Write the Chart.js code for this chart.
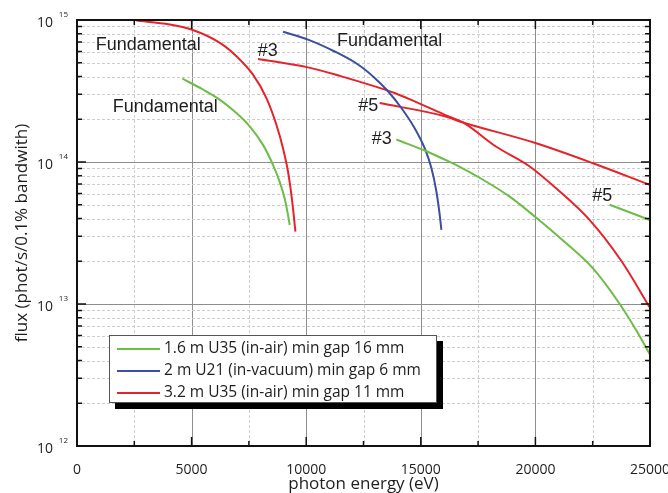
<!DOCTYPE html>
<html><head><meta charset="utf-8">
<script src="https://cdn.jsdelivr.net/npm/chart.js@4/dist/chart.umd.min.js"></script>
<style>html,body{margin:0;padding:0;background:#fff}canvas{display:block}</style>
</head><body>
<canvas id="c" width="668" height="493"></canvas>
<script>
// ---- tick values ----
const xTickValues = [0, 2500, 5000, 7500, 10000, 12500, 15000, 17500, 20000, 22500, 25000];
const xLabelValues = [0, 5000, 10000, 15000, 20000, 25000];
const yTickValues = [
  1e12, 2e12, 3e12, 4e12, 5e12, 6e12, 7e12, 8e12, 9e12,
  1e13, 2e13, 3e13, 4e13, 5e13, 6e13, 7e13, 8e13, 9e13,
  1e14, 2e14, 3e14, 4e14, 5e14, 6e14, 7e14, 8e14, 9e14,
  1e15
];
const yDecades = [1e12, 1e13, 1e14, 1e15];
const yDecadeExponents = ['12', '13', '14', '15'];

// ---- series (legend) ----
const seriesNames = [
  '1.6 m U35 (in-air) min gap 16 mm',
  '2 m U21 (in-vacuum) min gap 6 mm',
  '3.2 m U35 (in-air) min gap 11 mm'
];
const seriesColors = ['#6cbd45', '#3b4ea0', '#e5232b'];

// ---- curves: photon energy (eV) and flux (phot/s/0.1% bw) ----
// 1.6 m U35 fundamental
const greenFundEnergy = [4599, 5497, 6226, 6955, 7536, 8115, 8551, 8840, 9058, 9206, 9280];
const greenFundFlux   = [3.86e14, 3.24e14, 2.75e14, 2.21e14, 1.78e14, 1.32e14, 9.55e13, 7.28e13, 5.56e13, 4.24e13, 3.6e13];
// 1.6 m U35 3rd harmonic
const green3Energy = [13935, 15244, 16043, 16553, 17714, 18878, 20000, 21204, 22513, 23679, 24407, 25000];
const green3Flux   = [1.44e14, 1.19e14, 1.04e14, 9.5e13, 7.5e13, 5.7e13, 4.1e13, 2.8e13, 1.78e13, 1.0e13, 6.5e12, 4.4e12];
// 1.6 m U35 5th harmonic
const green5Energy = [23243, 25000];
const green5Flux   = [5.0e13, 3.9e13];
// 2 m U21 fundamental
const blueFundEnergy = [8988, 10079, 11243, 12260, 12989, 13569, 14153, 14733, 15170, 15462, 15680, 15825, 15898];
const blueFundFlux   = [8.26e14, 7.28e14, 6.0e14, 4.86e14, 3.91e14, 3.15e14, 2.4e14, 1.73e14, 1.25e14, 9.06e13, 6.2e13, 4.24e13, 3.33e13];
// 3.2 m U35 fundamental
const redFundEnergy = [2592, 4045, 4991, 6236, 6955, 7679, 8264, 8700, 8988, 9206, 9354, 9455, 9529];
const redFundFlux   = [9.9e14, 9.3e14, 8.57e14, 6.9e14, 5.56e14, 4.12e14, 2.82e14, 1.83e14, 1.25e14, 8.57e13, 5.87e13, 4.24e13, 3.23e13];
// 3.2 m U35 3rd harmonic
const red3Energy = [7897, 10079, 11536, 12989, 13861, 14733, 16043, 16841, 18296, 19751, 20916, 22370, 23760, 25000];
const red3Flux   = [5.32e14, 4.64e14, 4.01e14, 3.41e14, 3.06e14, 2.67e14, 2.15e14, 1.9e14, 1.28e14, 9.3e13, 6.5e13, 3.9e13, 2.0e13, 9.4e12];
// 3.2 m U35 5th harmonic
const red5Energy = [13206, 16043, 16696, 20000, 22513, 25000];
const red5Flux   = [2.6e14, 2.1e14, 1.93e14, 1.36e14, 9.8e13, 6.9e13];

// ---- harmonic annotations (text anchored at data coordinates) ----
const noteTexts  = ['Fundamental', 'Fundamental', 'Fundamental', '#3', '#3', '#5', '#5'];
const noteEnergy = [3106, 3848, 13640, 8320, 13294, 12705, 22915];
const noteFlux   = [6.64e14, 2.42e14, 7.08e14, 6.03e14, 1.46e14, 2.49e14, 5.77e13];

function pts(e, f) { return e.map((v, i) => ({ x: v, y: f[i] })); }
function ds(label, series, e, f) {
  return {
    label, data: pts(e, f),
    borderColor: seriesColors[series], backgroundColor: seriesColors[series],
    borderWidth: 2, pointRadius: 0, fill: false,
    cubicInterpolationMode: 'monotone'
  };
}

const datasets = [
  ds('1.6 m U35 fundamental', 0, greenFundEnergy, greenFundFlux),
  ds('1.6 m U35 #3', 0, green3Energy, green3Flux),
  ds('1.6 m U35 #5', 0, green5Energy, green5Flux),
  ds('2 m U21 fundamental', 1, blueFundEnergy, blueFundFlux),
  ds('3.2 m U35 fundamental', 2, redFundEnergy, redFundFlux),
  ds('3.2 m U35 #3', 2, red3Energy, red3Flux),
  ds('3.2 m U35 #5', 2, red5Energy, red5Flux)
];

const TEXT = '#1e1e1e';

const framePlugin = {
  id: 'frame',
  beforeDatasetsDraw(chart) {
    const { ctx, chartArea: a, scales: { x, y } } = chart;
    ctx.save();
    ctx.lineWidth = 1;
    xTickValues.forEach(v => {
      if (v <= x.min || v >= x.max) return;
      const px = Math.round(x.getPixelForValue(v)) + 0.5;
      const major = xLabelValues.includes(v);
      ctx.strokeStyle = major ? '#8e8e8e' : '#cdcdcd';
      ctx.setLineDash(major ? [] : [3, 2]);
      ctx.beginPath(); ctx.moveTo(px, a.top); ctx.lineTo(px, a.bottom); ctx.stroke();
    });
    yTickValues.forEach(v => {
      if (v <= y.min || v >= y.max) return;
      const py = Math.round(y.getPixelForValue(v)) + 0.5;
      const major = yDecades.includes(v);
      ctx.strokeStyle = major ? '#8e8e8e' : '#cdcdcd';
      ctx.setLineDash(major ? [] : [3, 2]);
      ctx.beginPath(); ctx.moveTo(a.left, py); ctx.lineTo(a.right, py); ctx.stroke();
    });
    ctx.restore();
  },
  afterDatasetsDraw(chart) {
    const { ctx, chartArea: a, scales: { x, y } } = chart;
    ctx.save();
    // inward tick marks
    ctx.strokeStyle = '#111';
    ctx.lineWidth = 1.5;
    ctx.setLineDash([]);
    xTickValues.forEach(v => {
      const px = x.getPixelForValue(v);
      const len = xLabelValues.includes(v) ? 9 : 5;
      ctx.beginPath();
      ctx.moveTo(px, a.bottom); ctx.lineTo(px, a.bottom - len);
      ctx.moveTo(px, a.top); ctx.lineTo(px, a.top + len);
      ctx.stroke();
    });
    yTickValues.forEach(v => {
      const py = y.getPixelForValue(v);
      const len = yDecades.includes(v) ? 9 : 5;
      ctx.beginPath();
      ctx.moveTo(a.left, py); ctx.lineTo(a.left + len, py);
      ctx.moveTo(a.right, py); ctx.lineTo(a.right - len, py);
      ctx.stroke();
    });
    // frame
    ctx.lineWidth = 2;
    ctx.strokeStyle = '#111';
    ctx.strokeRect(a.left, a.top, a.right - a.left, a.bottom - a.top);

    // y tick labels with superscript exponents
    ctx.fillStyle = TEXT;
    ctx.textAlign = 'right';
    ctx.textBaseline = 'middle';
    yDecades.forEach((v, i) => {
      const py = y.getPixelForValue(v);
      ctx.font = '14px "Open Sans"';
      ctx.fillText('10', 53, py + 3);
      ctx.font = '8px "Open Sans"';
      ctx.fillText(yDecadeExponents[i], 68, py - 5);
    });

    // harmonic annotations
    ctx.font = '18px "Liberation Sans"';
    ctx.textAlign = 'center';
    ctx.textBaseline = 'middle';
    noteTexts.forEach((t, i) => {
      ctx.fillText(t, x.getPixelForValue(noteEnergy[i]), y.getPixelForValue(noteFlux[i]));
    });

    // legend box with drop shadow
    const lx = 109, ly = 335, lw = 328, lh = 68, sh = 6;
    ctx.fillStyle = '#000';
    ctx.fillRect(lx + sh, ly + sh, lw, lh);
    ctx.fillStyle = '#fff';
    ctx.fillRect(lx, ly, lw, lh);
    ctx.strokeStyle = '#555';
    ctx.lineWidth = 1;
    ctx.strokeRect(lx + 0.5, ly + 0.5, lw - 1, lh - 1);
    ctx.font = '15.5px "Open Sans"';
    ctx.textAlign = 'left';
    ctx.textBaseline = 'middle';
    seriesNames.forEach((name, i) => {
      const ry = ly + 14 + i * 22;
      ctx.strokeStyle = seriesColors[i];
      ctx.lineWidth = 2;
      ctx.beginPath(); ctx.moveTo(117, ry); ctx.lineTo(160, ry); ctx.stroke();
      ctx.fillStyle = TEXT;
      ctx.fillText(name, 164, ry);
    });
    ctx.restore();
  }
};

new Chart(document.getElementById('c'), {
  type: 'line',
  data: { datasets },
  options: {
    responsive: false,
    animation: false,
    devicePixelRatio: 1,
    layout: { padding: { left: 0, right: 18, top: 20, bottom: 0 } },
    plugins: { legend: { display: false }, tooltip: { enabled: false } },
    scales: {
      x: {
        type: 'linear', min: 0, max: 25000,
        grid: { display: false }, border: { display: false },
        afterBuildTicks: s => { s.ticks = xTickValues.map(v => ({ value: v })); },
        afterFit: s => { s.height = 47; s.paddingLeft = 0; s.paddingRight = 0; },
        ticks: {
          autoSkip: false, maxRotation: 0, padding: 8,
          color: TEXT, font: { family: 'Open Sans', size: 14 },
          callback: v => xLabelValues.includes(v) ? String(v) : ''
        },
        title: {
          display: true, text: 'photon energy (eV)', color: TEXT,
          font: { family: 'Open Sans', size: 17, lineHeight: 1 },
          padding: { top: 0, bottom: 0 }
        }
      },
      y: {
        type: 'logarithmic', min: 1e12, max: 1e15,
        grid: { display: false }, border: { display: false },
        afterBuildTicks: s => { s.ticks = yTickValues.map(v => ({ value: v })); },
        afterFit: s => { s.width = 77; s.paddingTop = 0; s.paddingBottom = 0; },
        ticks: { display: false },
        title: {
          display: true, text: 'flux (phot/s/0.1% bandwith)', color: TEXT,
          font: { family: 'Open Sans', size: 17, lineHeight: 1.2 },
          padding: { top: 12, bottom: 0 }
        }
      }
    }
  },
  plugins: [framePlugin]
});
</script>
</body></html>
